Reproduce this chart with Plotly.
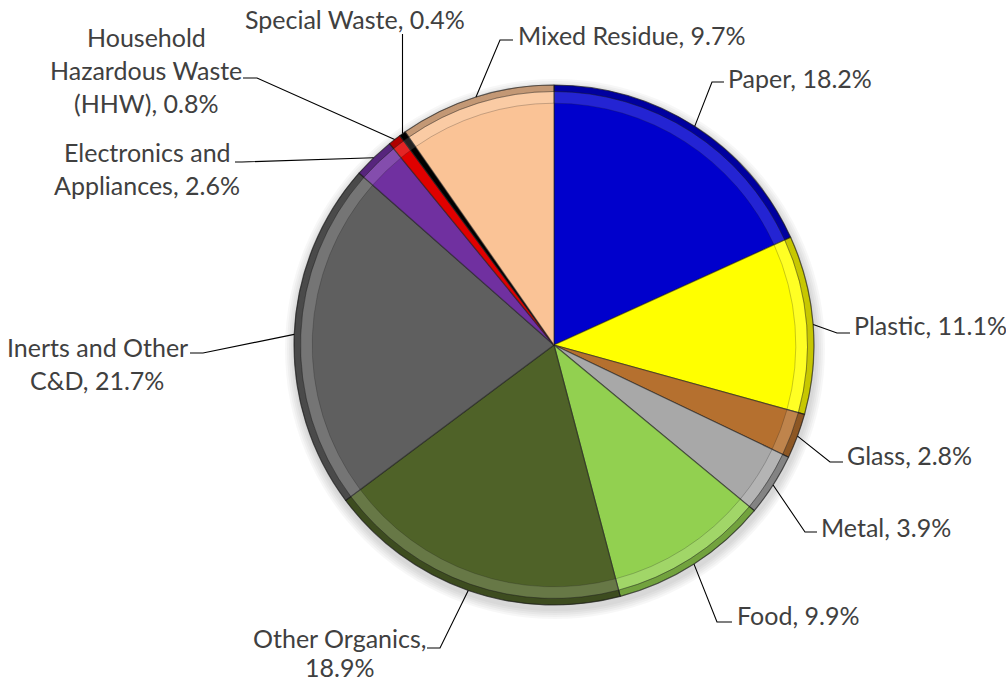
import math
import plotly.graph_objects as go

# Waste composition by material category (share of total, %)
categories = [
    "Paper", "Plastic", "Glass", "Metal", "Food", "Other Organics",
    "Inerts and Other C&D", "Electronics and Appliances",
    "Household Hazardous Waste (HHW)", "Special Waste", "Mixed Residue",
]
shares = [18.2, 11.1, 2.8, 3.9, 9.9, 18.9, 21.7, 2.6, 0.8, 0.4, 9.7]
colors = [
    "#0000CC", "#FFFF00", "#B5702F", "#A8A8A8", "#92D050", "#4F6228",
    "#5F5F5F", "#7030A0", "#E00000", "#000000", "#FAC396",
]
# How each label is wrapped onto lines ("|" separates lines, "^" puts the value on its own line)
label_layout = [
    "Paper", "Plastic", "Glass", "Metal", "Food", "Other Organics,^",
    "Inerts and Other|C&D", "Electronics and|Appliances",
    "Household|Hazardous Waste|(HHW)", "Special Waste", "Mixed Residue",
]

W, H = 1006, 685
CX, CY, R = 554, 345, 260          # pie centre and radius in pixels
TEXT_COLOR = "#404040"
FONT = "Lato"
FONT_SIZE = 25
LINE_GAP = 33

# label placement: (text x, first line y, line gap, x anchor, elbow point, end point)
placement = [
    (726, 78, 0, "left", (712, 82), (724, 82)),
    (852, 325, 0, "left", (837, 333), (850, 333)),
    (845, 455, 0, "left", (830, 462), (843, 462)),
    (819, 527, 0, "left", (805, 532), (817, 532)),
    (735, 615, 0, "left", (717, 622), (732, 622)),
    (339, 638, 29, "center", (440, 648), (427, 648)),
    (97, 347, LINE_GAP, "center", (203, 353), (190, 353)),
    (147, 152, LINE_GAP, "center", (242, 162), (235, 162)),
    (146, 37, LINE_GAP, "center", (257, 78), (243, 78)),
    (355, 19, 0, "center", None, None),
    (516, 35, 0, "left", (500, 40), (513, 40)),
]


def px(x):
    return x / W


def py(y):
    return 1 - y / H


def domain_for(radius):
    return dict(x=[px(CX - radius), px(CX + radius)],
                y=[py(CY + radius), py(CY - radius)])


fig = go.Figure()

# soft drop shadow under the pie
shadow = []
for k in range(5):
    rr = R + 2 + 2 * k
    shadow.append(dict(type="circle", xref="paper", yref="paper", layer="below",
                       x0=px(CX - rr + 1), x1=px(CX + rr + 1),
                       y0=py(CY + rr + 4), y1=py(CY - rr + 4),
                       fillcolor="rgba(0,0,0,0.03)", line=dict(width=0)))

# main slices
fig.add_trace(go.Pie(
    labels=categories, values=shares, sort=False, direction="clockwise",
    rotation=0, textinfo="none", hoverinfo="label+percent",
    marker=dict(colors=colors, line=dict(color="rgba(30,30,30,0.55)", width=1.2)),
    domain=domain_for(R), showlegend=False,
))

# bevel: light band just inside the rim
fig.add_trace(go.Pie(
    labels=categories, values=shares, sort=False, direction="clockwise",
    rotation=0, textinfo="none", hoverinfo="skip", hole=0.93 / 0.975,
    marker=dict(colors=["rgba(255,255,255,0.14)"] * len(shares),
                line=dict(color="rgba(30,30,30,0.3)", width=0.8)),
    domain=domain_for(R * 0.975), showlegend=False,
))

# bevel: dark outer edge
fig.add_trace(go.Pie(
    labels=categories, values=shares, sort=False, direction="clockwise",
    rotation=0, textinfo="none", hoverinfo="skip", hole=0.975,
    marker=dict(colors=["rgba(0,0,0,0.22)"] * len(shares),
                line=dict(color="rgba(30,30,30,0.4)", width=0.8)),
    domain=domain_for(R), showlegend=False,
))

# leader lines and labels
total = sum(shares)
shapes = list(shadow)
annotations = []
cum = 0.0
for name, val, lay, place in zip(categories, shares, label_layout, placement):
    mid = (cum + val / 2) / total * 2 * math.pi
    cum += val
    ax = CX + R * math.sin(mid)
    ay = CY - R * math.cos(mid)
    tx, ty, gap, anchor, elbow, end = place

    value_txt = f"{val:.1f}%"
    if lay.endswith("^"):
        lines = [lay[:-1], value_txt]
    else:
        parts = lay.split("|")
        parts[-1] = f"{parts[-1]}, {value_txt}"
        lines = parts

    if elbow is None:
        # vertical leader straight up to the label
        pts = [(ax, ay), (ax, ty + 15)]
    else:
        pts = [(ax, ay), elbow, end]
    path = "M " + " L ".join(f"{px(x):.5f},{py(y):.5f}" for x, y in pts)
    shapes.append(dict(type="path", xref="paper", yref="paper", path=path,
                       line=dict(color="#000000", width=1.1)))

    for i, line in enumerate(lines):
        annotations.append(dict(
            x=px(tx), y=py(ty + i * gap), xref="paper", yref="paper",
            text=line, showarrow=False, xanchor=anchor, yanchor="middle",
            font=dict(family=FONT, size=FONT_SIZE, color=TEXT_COLOR),
        ))

fig.update_layout(
    width=W, height=H, margin=dict(l=0, r=0, t=0, b=0),
    paper_bgcolor="white", plot_bgcolor="white",
    shapes=shapes, annotations=annotations, showlegend=False,
)

fig.write_html("out.html")
